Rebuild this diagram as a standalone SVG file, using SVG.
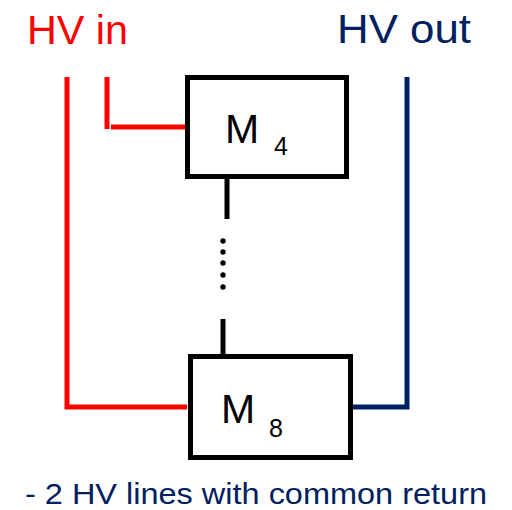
<svg xmlns="http://www.w3.org/2000/svg" width="512" height="510" viewBox="0 0 512 510">
<style>
.box{fill:#fff;stroke:#000;stroke-width:5}
.red{fill:none;stroke:#ff0000;stroke-width:5}
.blue{fill:none;stroke:#002060;stroke-width:5}
.blk{fill:none;stroke:#000;stroke-width:5}
text{font-family:"Liberation Sans",Arial,sans-serif}
.lbl{font-size:41px}
.sub{font-size:25px}
</style>
<rect width="512" height="510" fill="#fff"/>
<g id="connectors">
<polyline class="red" points="67,77 67,407 187,407"/>
<line class="red" x1="107" y1="77" x2="107" y2="129"/>
<line class="red" x1="111" y1="127" x2="187" y2="127"/>
<polyline class="blue" points="352,407 407,407 407,77"/>
<line class="blk" x1="227" y1="179" x2="227" y2="219"/>
<line class="blk" x1="223" y1="319" x2="223" y2="355"/>
<g fill="#000">
<circle cx="223" cy="241" r="2.7"/>
<circle cx="223" cy="252" r="2.7"/>
<circle cx="223" cy="263" r="2.7"/>
<circle cx="223" cy="275" r="2.7"/>
<circle cx="223" cy="287" r="2.7"/>
</g>
</g>
<g id="M4">
<rect class="box" x="187.5" y="77.5" width="159" height="99"/>
<text class="lbl" x="225" y="143">M</text>
<text class="sub" x="274" y="155">4</text>
</g>
<g id="M8">
<rect class="box" x="190.5" y="356.5" width="160" height="101"/>
<text class="lbl" x="221" y="423">M</text>
<text class="sub" x="269" y="437">8</text>
</g>
<text x="27" y="44" font-size="41" fill="#ff0000" textLength="101" lengthAdjust="spacingAndGlyphs">HV in</text>
<text x="337" y="43" font-size="41" fill="#002060" textLength="134" lengthAdjust="spacingAndGlyphs">HV out</text>
<text x="25" y="504" font-size="30" fill="#002060" textLength="462" lengthAdjust="spacingAndGlyphs">- 2 HV lines with common return</text>
</svg>
